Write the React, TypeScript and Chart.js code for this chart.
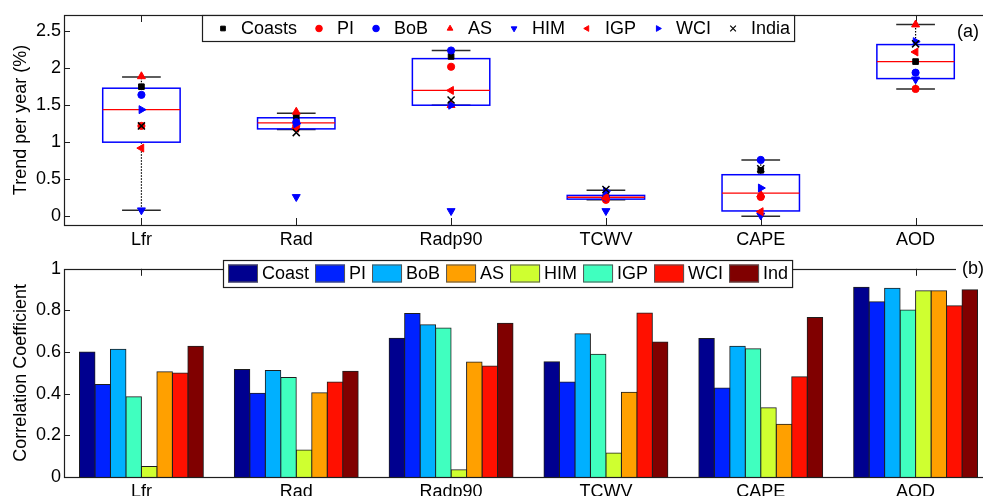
import React, { useEffect, useRef } from 'react';
import { Chart, registerables } from 'chart.js';
import { drawPoint } from 'chart.js/helpers';

Chart.register(...registerables);

const FONT_FAMILY = "'Liberation Sans', Arial, Helvetica, sans-serif";
Chart.defaults.font.family = FONT_FAMILY;

// ---------- data ----------
const categories = ['Lfr', 'Rad', 'Radp90', 'TCWV', 'CAPE', 'AOD'];
const trendTicks = [0, 0.5, 1, 1.5, 2, 2.5];
const corrTicks = [0, 0.2, 0.4, 0.6, 0.8, 1];

// box-plot statistics (panel a)
const boxLow = [0.08, 1.17, 1.5, 0.22, 0.0, 1.72];
const boxQ1 = [1.0, 1.18, 1.5, 0.23, 0.07, 1.86];
const boxMedian = [1.44, 1.26, 1.7, 0.255, 0.31, 2.09];
const boxQ3 = [1.73, 1.33, 2.13, 0.28, 0.56, 2.32];
const boxHigh = [1.88, 1.39, 2.24, 0.35, 0.76, 2.59];

// trend per year (%) per region (panel a)
const trendCoasts = [1.75, 1.34, 2.16, 0.27, 0.62, 2.09];
const trendPI = [1.22, 1.22, 2.02, 0.22, 0.26, 1.72];
const trendBoB = [1.64, 1.27, 2.24, 0.25, 0.76, 1.94];
const trendAS = [1.89, 1.41, 1.5, 0.26, 0.29, 2.59];
const trendHIM = [0.08, 0.26, 0.07, 0.07, 0.01, 1.85];
const trendIGP = [0.92, 1.19, 1.7, 0.24, 0.06, 2.22];
const trendWCI = [1.44, 1.25, 1.5, 0.34, 0.38, 2.36];
const trendIndia = [1.22, 1.13, 1.57, 0.36, 0.64, 2.33];

// correlation coefficients (panel b)
const corrCoast = [0.6, 0.516, 0.667, 0.554, 0.665, 0.911];
const corrPI = [0.444, 0.402, 0.785, 0.456, 0.427, 0.842];
const corrBoB = [0.613, 0.511, 0.731, 0.688, 0.628, 0.906];
const corrAS = [0.506, 0.405, 0.552, 0.407, 0.253, 0.894];
const corrHIM = [0.051, 0.13, 0.035, 0.115, 0.333, 0.895];
const corrIGP = [0.386, 0.478, 0.716, 0.59, 0.616, 0.802];
const corrWCI = [0.499, 0.456, 0.533, 0.788, 0.482, 0.823];
const corrInd = [0.628, 0.508, 0.739, 0.648, 0.766, 0.899];

// ---------- styles ----------
const markerSeries = [
  { label: 'Coasts', data: trendCoasts, color: '#000000', style: 'rect', rot: 0, r: 4, bw: 1 },
  { label: 'PI', data: trendPI, color: '#ff0000', style: 'circle', rot: 0, r: 3.6, bw: 1 },
  { label: 'BoB', data: trendBoB, color: '#0000ff', style: 'circle', rot: 0, r: 3.6, bw: 1 },
  { label: 'AS', data: trendAS, color: '#ff0000', style: 'triangle', rot: 0, r: 4.6, bw: 1 },
  { label: 'HIM', data: trendHIM, color: '#0000ff', style: 'triangle', rot: 180, r: 4.6, bw: 1 },
  { label: 'IGP', data: trendIGP, color: '#ff0000', style: 'triangle', rot: 270, r: 4.6, bw: 1 },
  { label: 'WCI', data: trendWCI, color: '#0000ff', style: 'triangle', rot: 90, r: 4.6, bw: 1 },
  { label: 'India', data: trendIndia, color: '#000000', style: 'crossRot', rot: 0, r: 5, bw: 1.5 },
];

// bar drawing order (as in the figure) and legend order
const barSeries = [
  { label: 'Coast', data: corrCoast, color: '#00008f' },
  { label: 'PI', data: corrPI, color: '#0022ff' },
  { label: 'BoB', data: corrBoB, color: '#00b0ff' },
  { label: 'IGP', data: corrIGP, color: '#40ffbf' },
  { label: 'HIM', data: corrHIM, color: '#cfff30' },
  { label: 'AS', data: corrAS, color: '#ffa000' },
  { label: 'WCI', data: corrWCI, color: '#ff1000' },
  { label: 'Ind', data: corrInd, color: '#800000' },
];
const barLegendOrder = ['Coast', 'PI', 'BoB', 'AS', 'HIM', 'IGP', 'WCI', 'Ind'];

const AXIS_COLOR = '#1e1e1e';
const TEXT_COLOR = '#000000';
const FS = 18;

// ---------- helpers ----------
function drawInwardTicks(chart: any, bottomTicks: boolean) {
  const { ctx, chartArea: a } = chart;
  const xs = chart.scales.x;
  const ys = chart.scales.y;
  ctx.save();
  ctx.strokeStyle = AXIS_COLOR;
  ctx.lineWidth = 1;
  ctx.beginPath();
  ys.ticks.forEach((t: any) => {
    const y = Math.round(ys.getPixelForValue(t.value)) + 0.5;
    ctx.moveTo(a.left, y);
    ctx.lineTo(a.left + 6, y);
  });
  xs.ticks.forEach((t: any, i: number) => {
    const x = Math.round(xs.getPixelForTick(i)) + 0.5;
    ctx.moveTo(x, a.top);
    ctx.lineTo(x, a.top + 7);
    if (bottomTicks) {
      ctx.moveTo(x, a.bottom);
      ctx.lineTo(x, a.bottom - 7);
    }
  });
  ctx.stroke();
  ctx.restore();
}

function drawFrame(chart: any) {
  const { ctx, chartArea: a } = chart;
  ctx.save();
  ctx.strokeStyle = AXIS_COLOR;
  ctx.lineWidth = 1.2;
  ctx.strokeRect(Math.round(a.left) + 0.5, Math.round(a.top) + 0.5, Math.round(a.right - a.left), Math.round(a.bottom - a.top));
  ctx.restore();
}

const boxPlotPlugin = {
  id: 'boxPlot',
  beforeDatasetsDraw(chart: any) {
    const { ctx } = chart;
    const xs = chart.scales.x;
    const ys = chart.scales.y;
    drawInwardTicks(chart, true);
    ctx.save();
    categories.forEach((_, i) => {
      const xc = xs.getPixelForValue(i + 1);
      const hw = xs.getPixelForValue(i + 1.25) - xc;
      const cw = hw / 2;
      const yLo = ys.getPixelForValue(boxLow[i]);
      const yQ1 = ys.getPixelForValue(boxQ1[i]);
      const yMed = ys.getPixelForValue(boxMedian[i]);
      const yQ3 = ys.getPixelForValue(boxQ3[i]);
      const yHi = ys.getPixelForValue(boxHigh[i]);
      // whiskers (dotted)
      ctx.strokeStyle = '#000';
      ctx.lineWidth = 1.2;
      ctx.setLineDash([1.5, 1.5]);
      ctx.beginPath();
      ctx.moveTo(xc, yQ3);
      ctx.lineTo(xc, yHi);
      ctx.moveTo(xc, yQ1);
      ctx.lineTo(xc, yLo);
      ctx.stroke();
      ctx.setLineDash([]);
      // caps
      ctx.strokeStyle = '#2a2a2a';
      ctx.lineWidth = 1.5;
      ctx.beginPath();
      ctx.moveTo(xc - cw, yHi);
      ctx.lineTo(xc + cw, yHi);
      ctx.moveTo(xc - cw, yLo);
      ctx.lineTo(xc + cw, yLo);
      ctx.stroke();
      // box
      ctx.strokeStyle = '#0000ff';
      ctx.lineWidth = 1.5;
      ctx.strokeRect(xc - hw, yQ3, 2 * hw, yQ1 - yQ3);
      // median
      ctx.strokeStyle = '#ff0000';
      ctx.lineWidth = 1.3;
      ctx.beginPath();
      ctx.moveTo(xc - hw, yMed);
      ctx.lineTo(xc + hw, yMed);
      ctx.stroke();
    });
    ctx.restore();
  },
  afterDatasetsDraw(chart: any) {
    const { ctx } = chart;
    drawFrame(chart);
    // marker legend
    ctx.save();
    ctx.font = `${FS}px ${FONT_FAMILY}`;
    ctx.textBaseline = 'middle';
    ctx.textAlign = 'left';
    const left = 202, top = 15, h = 26;
    const cy = top + h / 2 + 0.5;
    let x = left + 21;
    const items: any[] = [];
    markerSeries.forEach((s) => {
      const tw = ctx.measureText(s.label).width;
      items.push({ s, mx: x, tx: x + 18 });
      x = x + 18 + tw + 22;
    });
    const right = x - 22 + 4;
    ctx.fillStyle = '#fff';
    ctx.fillRect(left, top, right - left, h);
    ctx.strokeStyle = AXIS_COLOR;
    ctx.lineWidth = 1.2;
    ctx.strokeRect(left + 0.5, top + 0.5, right - left, h);
    items.forEach(({ s, mx, tx }) => {
      ctx.fillStyle = s.color;
      ctx.strokeStyle = s.color;
      ctx.lineWidth = s.style === 'crossRot' ? 1.2 : 1;
      drawPoint(ctx, { pointStyle: s.style, rotation: s.rot, radius: s.style === 'crossRot' ? 4 : 3.3, borderWidth: ctx.lineWidth }, mx, cy);
      ctx.fillStyle = TEXT_COLOR;
      ctx.fillText(s.label, tx, cy + 1);
    });
    // panel label
    ctx.fillStyle = TEXT_COLOR;
    ctx.fillText('(a)', 957, 32);
    ctx.restore();
  },
};

const barPanelPlugin = {
  id: 'barPanel',
  beforeDatasetsDraw(chart: any) {
    drawInwardTicks(chart, true);
  },
  afterDatasetsDraw(chart: any) {
    const { ctx } = chart;
    drawFrame(chart);
    ctx.save();
    ctx.font = `${FS}px ${FONT_FAMILY}`;
    ctx.textBaseline = 'middle';
    ctx.textAlign = 'left';
    const left = 223, top = 5, h = 27;
    const cy = top + h / 2;
    let x = left + 5;
    const items: any[] = [];
    barLegendOrder.forEach((name) => {
      const s = barSeries.find((b) => b.label === name)!;
      const tw = ctx.measureText(name).width;
      items.push({ s, sx: x, tx: x + 34 });
      x = x + 34 + tw + 6;
    });
    const right = x - 6 + 4;
    ctx.fillStyle = '#fff';
    ctx.fillRect(left, top, right - left, h);
    ctx.strokeStyle = AXIS_COLOR;
    ctx.lineWidth = 1.2;
    ctx.strokeRect(left + 0.5, top + 0.5, right - left, h);
    items.forEach(({ s, sx, tx }) => {
      ctx.fillStyle = s.color;
      ctx.fillRect(sx, cy - 9, 30, 18);
      ctx.strokeStyle = '#555';
      ctx.lineWidth = 1;
      ctx.strokeRect(sx + 0.5, cy - 9 + 0.5, 29, 17);
      ctx.fillStyle = TEXT_COLOR;
      ctx.fillText(s.label, tx, cy + 1);
    });
    // panel label with white background
    ctx.fillStyle = '#fff';
    ctx.fillRect(956, 2, 40, 24);
    ctx.fillStyle = TEXT_COLOR;
    ctx.fillText('(b)', 962, 14);
    ctx.restore();
  },
};

export default function App() {
  const topRef = useRef<HTMLCanvasElement>(null);
  const botRef = useRef<HTMLCanvasElement>(null);

  useEffect(() => {
    const tickFont = { size: FS, family: FONT_FAMILY };
    const top = new Chart(topRef.current as HTMLCanvasElement, {
      type: 'scatter',
      data: {
        datasets: markerSeries.map((s, idx) => ({
          label: s.label,
          data: s.data.map((v, i) => ({ x: i + 1, y: v })),
          pointStyle: s.style as any,
          rotation: s.rot,
          pointRadius: s.r,
          pointBorderWidth: s.bw,
          backgroundColor: s.color,
          borderColor: s.color,
          order: markerSeries.length - idx,
        })),
      },
      options: {
        responsive: false,
        animation: false,
        devicePixelRatio: 1,
        layout: { padding: { left: 0, right: 7, top: 15, bottom: 0 } },
        plugins: { legend: { display: false }, tooltip: { enabled: false } },
        scales: {
          x: {
            type: 'linear',
            min: 0.5,
            max: 6.5,
            grid: { display: false, drawTicks: false },
            border: { display: false },
            afterBuildTicks: (s: any) => {
              s.ticks = categories.map((_, i) => ({ value: i + 1 }));
            },
            afterFit: (s: any) => {
              s.height = 30;
            },
            ticks: {
              autoSkip: false,
              maxRotation: 0,
              padding: 4,
              color: TEXT_COLOR,
              font: tickFont,
              callback: (v: any) => categories[Math.round(Number(v)) - 1] ?? '',
            },
          },
          y: {
            min: -0.12,
            max: 2.72,
            grid: { display: false, drawTicks: false },
            border: { display: false },
            afterBuildTicks: (s: any) => {
              s.ticks = trendTicks.map((v) => ({ value: v }));
            },
            afterFit: (s: any) => {
              s.width = 64;
            },
            ticks: { padding: 3, color: TEXT_COLOR, font: tickFont, callback: (v: any) => String(v) },
            title: {
              display: true,
              text: 'Trend per year (%)',
              color: TEXT_COLOR,
              font: tickFont,
              padding: { top: 10, bottom: 0 },
            },
          },
        },
      },
      plugins: [boxPlotPlugin],
    });

    const bottom = new Chart(botRef.current as HTMLCanvasElement, {
      type: 'bar',
      data: {
        labels: categories,
        datasets: barSeries.map((s) => ({
          label: s.label,
          data: s.data,
          backgroundColor: s.color,
          borderColor: '#1e1e1e',
          borderWidth: 1,
          inflateAmount: 0.5,
          categoryPercentage: 0.8,
          barPercentage: 1.0,
        })),
      },
      options: {
        responsive: false,
        animation: false,
        devicePixelRatio: 1,
        layout: { padding: { left: 0, right: 7, top: 5, bottom: 0 } },
        plugins: { legend: { display: false }, tooltip: { enabled: false } },
        scales: {
          x: {
            grid: { display: false, drawTicks: false },
            border: { display: false },
            afterFit: (s: any) => {
              s.height = 38;
            },
            ticks: { autoSkip: false, maxRotation: 0, padding: 4, color: TEXT_COLOR, font: tickFont },
          },
          y: {
            min: 0,
            max: 1,
            grid: { display: false, drawTicks: false },
            border: { display: false },
            afterBuildTicks: (s: any) => {
              s.ticks = corrTicks.map((v) => ({ value: v }));
            },
            afterFit: (s: any) => {
              s.width = 64;
            },
            ticks: { padding: 3, color: TEXT_COLOR, font: tickFont, callback: (v: any) => String(v) },
            title: {
              display: true,
              text: 'Correlation Coefficient',
              color: TEXT_COLOR,
              font: tickFont,
              padding: { top: 10, bottom: 0 },
            },
          },
        },
      },
      plugins: [barPanelPlugin],
    });

    return () => {
      top.destroy();
      bottom.destroy();
    };
  }, []);

  return (
    <div
      style={{
        position: 'fixed',
        left: 0,
        top: 0,
        width: 983,
        height: 496,
        overflow: 'hidden',
        background: '#ffffff',
      }}
    >
      <canvas ref={topRef} width={1000} height={255} style={{ position: 'absolute', left: 0, top: 0 }} />
      <canvas ref={botRef} width={1000} height={260} style={{ position: 'absolute', left: 0, top: 255 }} />
    </div>
  );
}
